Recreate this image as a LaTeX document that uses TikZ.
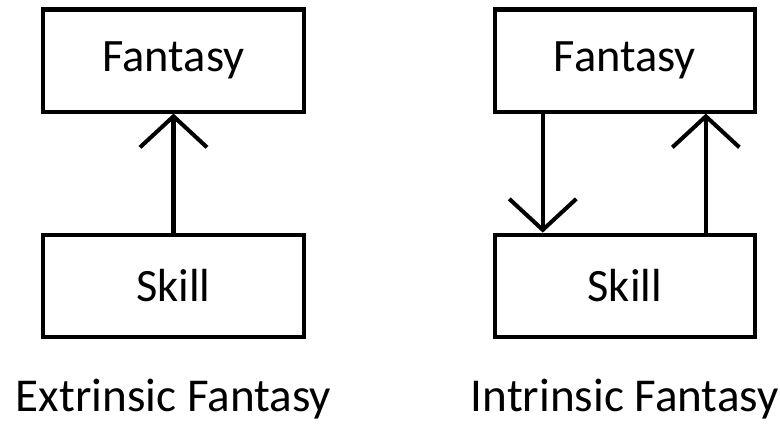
\documentclass[tikz,border=0pt]{standalone}
\usepackage{fontspec}
\setmainfont{Carlito}
\usetikzlibrary{positioning, arrows.meta}

\begin{document}
\begin{tikzpicture}[x=0.01cm, y=-0.01cm,
    box/.style={draw, line width=1.15pt, minimum width=2.6cm, minimum height=1.02cm,
      font=\fontsize{13.2}{15}\selectfont},
    caption/.style={font=\fontsize{13.4}{15}\selectfont, inner sep=0pt},
    flow/.style={line width=1.15pt, -{Straight Barb[length=0.31cm, width=0.67cm, line width=1.15pt]}},
    node distance=1.19cm and 1.87cm]
  \useasboundingbox (0,0) rectangle (780,423);

  % Extrinsic: skill only feeds the fantasy
  \node[box] (fantasy1) at (173.5,60.5) {Fantasy};
  \node[box, below=of fantasy1] (skill1) {Skill};
  \draw[flow] (skill1.north) -- (fantasy1.south);
  \node[caption, below=0.4cm of skill1] (ext) {Extrinsic Fantasy};

  % Intrinsic: both directions
  \node[box, right=of fantasy1] (fantasy2) {Fantasy};
  \node[box, below=of fantasy2] (skill2) {Skill};
  \draw[flow] ([xshift=-0.82cm]fantasy2.south) -- ([xshift=-0.82cm]skill2.north);
  \draw[flow] ([xshift=0.81cm]skill2.north) -- ([xshift=0.81cm]fantasy2.south);
  \node[caption, below=0.4cm of skill2] (int) {Intrinsic Fantasy};
\end{tikzpicture}
\end{document}
